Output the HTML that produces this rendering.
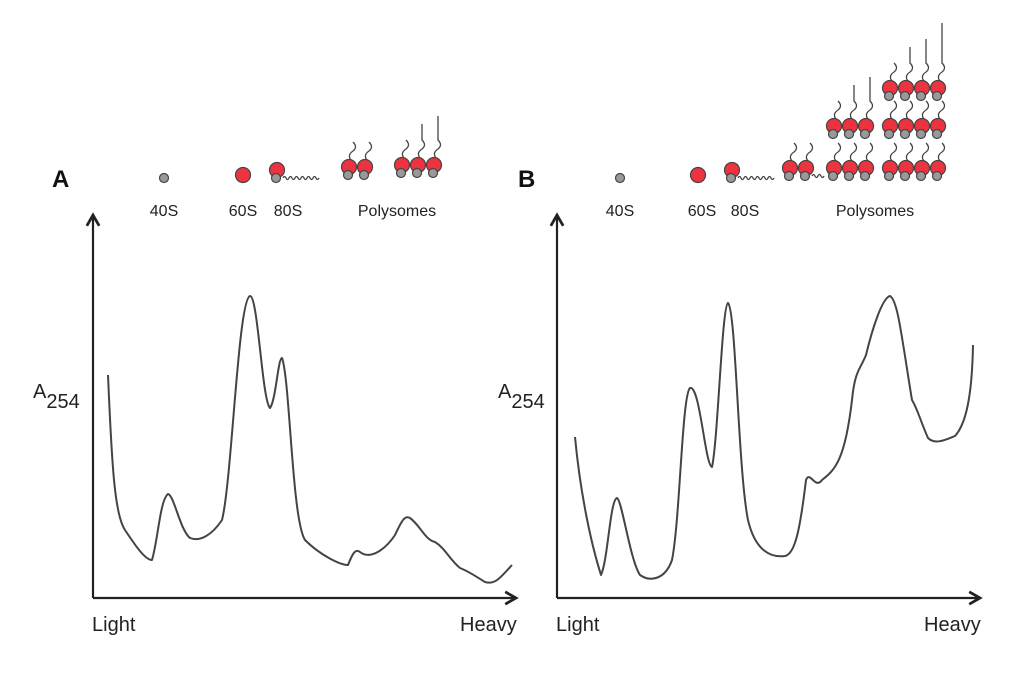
<!DOCTYPE html>
<html><head><style>
body{margin:0;background:#fff;}
svg{display:block;font-family:"Liberation Sans",sans-serif;}
</style></head><body>
<svg id="s" width="1024" height="673" viewBox="0 0 1024 673" xmlns="http://www.w3.org/2000/svg">
<defs>
<marker id="ah" viewBox="0 0 10 10" refX="8" refY="5" markerWidth="7" markerHeight="7" orient="auto-start-reverse">
<path d="M1,1 L8,5 L1,9" fill="none" stroke="#222" stroke-width="1.8"/>
</marker>
</defs>
<rect width="1024" height="673" fill="#fff"/>
<g stroke="#222" stroke-width="2.2" fill="none">
<path d="M93,598 L93,215" marker-end="url(#ah)"/>
<path d="M93,598 L516,598" marker-end="url(#ah)"/>
<path d="M557,598 L557,215" marker-end="url(#ah)"/>
<path d="M557,598 L980,598" marker-end="url(#ah)"/>
</g>
<g fill="none" stroke="#444" stroke-width="2" stroke-linejoin="round">
<path d="M108,375 C112,470 115,515 125,530 C135,545 145,560 152,560 C158,540 160,500 168,494 C174,495 180,530 190,538 C200,542 212,535 222,520 C232,480 238,300 250,296 C258,296 262,400 270,408 C276,400 278,358 282,358 C290,380 292,520 305,540 C320,555 340,565 348,565 C352,555 355,548 360,552 C370,560 385,550 395,535 C402,520 405,515 410,518 C420,525 425,540 435,542 C445,548 450,560 460,568 C470,572 475,576 485,582 C495,585 500,578 512,565"/>
<path d="M575,437 C580,490 590,540 601,575 C608,560 610,500 617,498 C622,500 630,560 640,575 C650,582 665,580 672,560 C680,520 682,395 690,388 C700,385 705,465 712,467 C718,440 722,305 728,303 C736,310 738,470 748,520 C755,550 770,558 785,556 C795,554 800,530 806,480 C810,470 815,490 822,480 C835,470 845,460 852,400 C855,370 860,370 866,355 C872,330 882,298 890,296 C898,300 902,340 912,400 C918,410 920,420 928,438 C935,445 945,440 955,436 C965,425 972,400 973,345"/>
</g>
<g font-size="20" fill="#222">
<text x="92" y="631">Light</text>
<text x="460" y="631">Heavy</text>
<text x="556" y="631">Light</text>
<text x="924" y="631">Heavy</text>
<text x="33" y="398">A<tspan font-size="20" dy="10">254</tspan></text>
<text x="498" y="398">A<tspan font-size="20" dy="10">254</tspan></text>
</g>
<g font-size="16" fill="#222" text-anchor="middle">
<text x="164" y="216">40S</text><text x="243" y="216">60S</text><text x="288" y="216">80S</text><text x="397" y="216">Polysomes</text>
<text x="620" y="216">40S</text><text x="702" y="216">60S</text><text x="745" y="216">80S</text><text x="875" y="216">Polysomes</text>
</g>
<g font-size="24" font-weight="bold" fill="#111">
<text x="52" y="187">A</text><text x="518" y="187">B</text>
</g>
<g id="rib"></g>
</svg>
<script>
var g=document.getElementById('rib'),ns="http://www.w3.org/2000/svg";
function el(t,a){var e=document.createElementNS(ns,t);for(var k in a)e.setAttribute(k,a[k]);g.appendChild(e);return e;}
function small(x,y){el('circle',{cx:x,cy:y,r:4.5,fill:'#999',stroke:'#444','stroke-width':1.2});}
function big(x,y){el('circle',{cx:x,cy:y,r:7.5,fill:'#ee3340',stroke:'#444','stroke-width':1.2});}
function rib(x,y,tail){ if(tail){el('path',{d:'M'+(x+2)+','+(y-7)+' q-4,-5 2,-9 q5,-4 0,-9 '+(tail>1?'l0,-'+(tail*8):''),fill:'none',stroke:'#444','stroke-width':1.3});}
 big(x,y);small(x-1,y+8);}
function poly(xs,y,tails){for(var i=0;i<xs.length;i++)rib(xs[i],y,tails[i]);}
function wave(x,y,len){var d='M'+x+','+y;for(var i=0;i<len;i+=6)d+=' q1.5,-3 3,0 q1.5,3 3,0';el('path',{d:d,fill:'none',stroke:'#444','stroke-width':1.3});}
// A
small(164,178);big(243,175);wave(283,178,32);rib(277,170,0);
poly([349,365],167,[1,1]);poly([402,418,434],165,[1,2,3]);
// B
small(620,178);big(698,175);wave(738,178,32);rib(732,170,0);
wave(812,176,10);poly([790,806],168,[1,1]);
poly([834,850,866],168,[1,1,1]);poly([834,850,866],126,[1,2,3]);
poly([890,906,922,938],168,[1,1,1,1]);poly([890,906,922,938],126,[1,1,1,1]);poly([890,906,922,938],88,[1,2,3,5]);
</script>
</body></html>
